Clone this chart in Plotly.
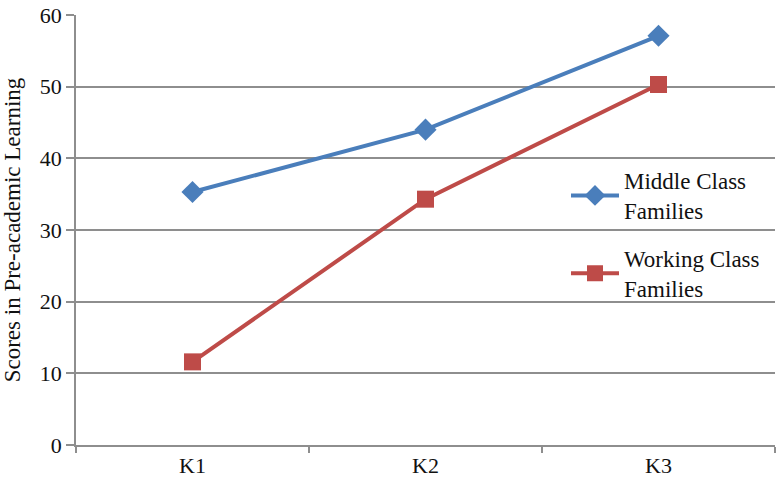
import plotly.graph_objects as go

grades = ['K1', 'K2', 'K3']
middle_class = [35.3, 44.0, 57.1]
working_class = [11.6, 34.3, 50.3]

serif = 'Liberation Serif'
grid_color = '#8e8e8e'

fig = go.Figure()

fig.add_trace(go.Scatter(
    x=grades,
    y=middle_class,
    mode='lines+markers',
    name='Middle Class<br>Families',
    legendgroup='middle',
    line=dict(width=4, color='#4a7ebb'),
    marker=dict(symbol='diamond', size=17, color='#4a7ebb')
))

fig.add_trace(go.Scatter(
    x=grades,
    y=working_class,
    mode='lines+markers',
    name='Working Class<br>Families',
    legendgroup='working',
    line=dict(width=4, color='#be4b48'),
    marker=dict(symbol='square', size=17, color='#be4b48')
))

fig.update_xaxes(
    range=[-0.5, 2.5],
    automargin=False,
    showgrid=False,
    showline=True,
    linecolor=grid_color,
    linewidth=1.5,
    ticks='outside',
    tickson='boundaries',
    ticklen=6,
    tickcolor=grid_color,
    tickwidth=1.5,
    ticklabeloverflow='allow',
    tickfont=dict(family=serif, size=22, color='#111111')
)

fig.update_yaxes(
    range=[0, 60],
    dtick=10,
    automargin=False,
    showgrid=True,
    gridcolor=grid_color,
    gridwidth=1.5,
    zeroline=False,
    showline=True,
    linecolor=grid_color,
    linewidth=1.5,
    ticks='outside',
    ticklen=8,
    tickcolor=grid_color,
    tickwidth=1.5,
    ticklabeloverflow='allow',
    tickfont=dict(family=serif, size=22, color='#111111'),
    title=dict(
        text='Scores in Pre-academic Learning',
        font=dict(family=serif, size=23, color='#111111'),
        standoff=18
    )
)

fig.update_layout(
    width=777,
    height=480,
    margin=dict(l=76, r=2, t=15, b=35),
    plot_bgcolor='white',
    paper_bgcolor='white',
    font=dict(family=serif),
    showlegend=True,
    legend=dict(
        x=0.701,
        y=0.665,
        xanchor='left',
        yanchor='top',
        bgcolor='rgba(0,0,0,0)',
        itemwidth=48,
        tracegroupgap=15,
        font=dict(family=serif, size=23, color='#111111')
    )
)

# drop the default body margin so the figure fills the window
fig.write_html(
    "out.html",
    config={'displayModeBar': False},
    post_script="document.body.style.margin = '0';"
)
